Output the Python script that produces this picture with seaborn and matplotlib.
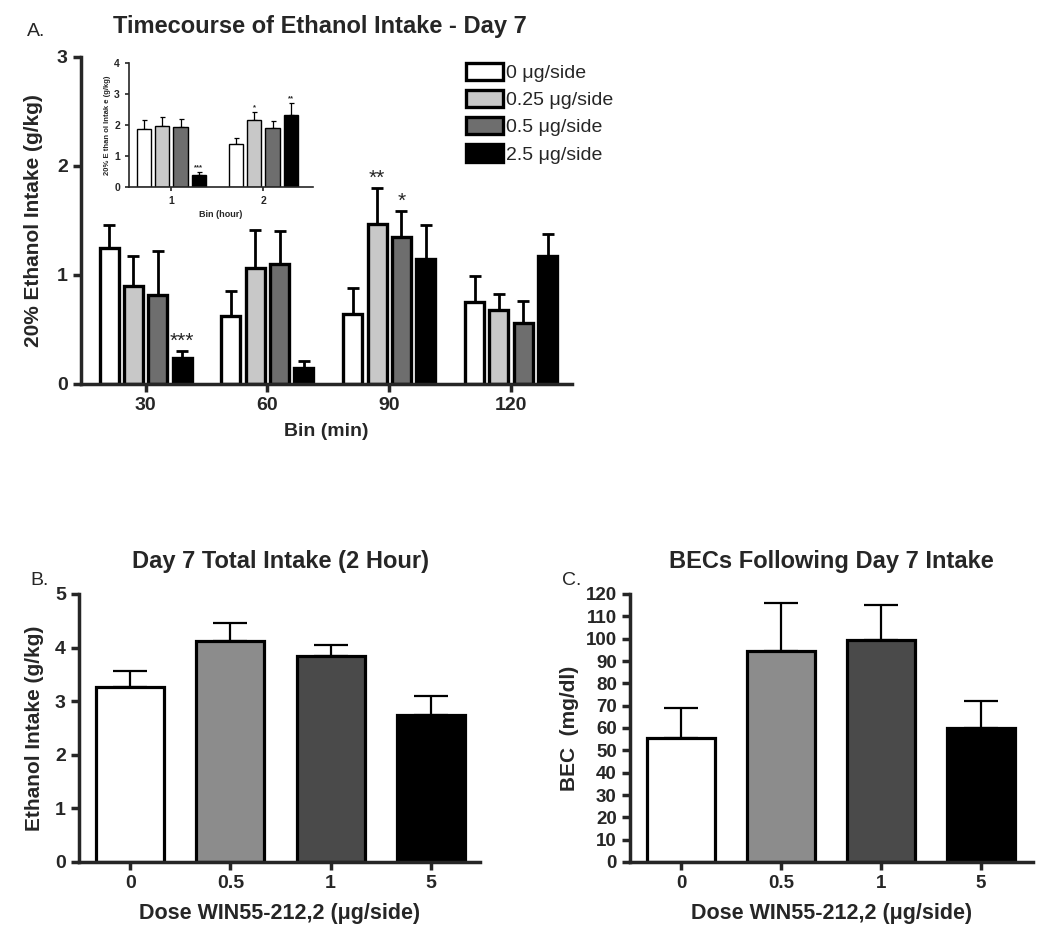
import numpy as np
import pandas as pd
from matplotlib import pyplot as plt
from matplotlib.container import BarContainer
import matplotlib.patches as mpatches
import seaborn as sns

sns.set_style("ticks")
plt.rcParams['font.family'] = ['Liberation Sans', 'DejaVu Sans']

# Panel A: timecourse, 30 min bins
a_bins = ['30', '60', '90', '120']
a_doses = ['0 μg/side', '0.25 μg/side', '0.5 μg/side', '2.5 μg/side']
a_mean_0 = [1.25, 0.62, 0.64, 0.75]
a_mean_025 = [0.90, 1.06, 1.47, 0.68]
a_mean_05 = [0.82, 1.10, 1.35, 0.56]
a_mean_25 = [0.24, 0.15, 1.15, 1.17]
a_sem_0 = [0.21, 0.23, 0.24, 0.24]
a_sem_025 = [0.27, 0.35, 0.33, 0.15]
a_sem_05 = [0.40, 0.30, 0.24, 0.20]
a_sem_25 = [0.06, 0.06, 0.31, 0.21]
a_star_0 = ['', '', '', '']
a_star_025 = ['', '', '**', '']
a_star_05 = ['', '', '*', '']
a_star_25 = ['***', '', '', '']

# Inset: 1 hour bins
in_bins = ['1', '2']
in_mean_0 = [1.87, 1.40]
in_mean_025 = [1.97, 2.15]
in_mean_05 = [1.94, 1.91]
in_mean_25 = [0.40, 2.33]
in_sem_0 = [0.29, 0.18]
in_sem_025 = [0.30, 0.28]
in_sem_05 = [0.26, 0.22]
in_sem_25 = [0.09, 0.39]
in_star_0 = ['', '']
in_star_025 = ['', '*']
in_star_05 = ['', '']
in_star_25 = ['***', '**']

# Panels B and C
bc_doses = ['0', '0.5', '1', '5']
b_mean = [3.27, 4.12, 3.85, 2.75]
b_sem = [0.30, 0.33, 0.20, 0.34]
c_mean = [55.3, 94.6, 99.4, 60.1]
c_sem = [13.7, 21.5, 15.7, 11.9]

a_colors = ['#ffffff', '#c8c8c8', '#6e6e6e', '#000000']
bc_colors = ['#ffffff', '#8c8c8c', '#4a4a4a', '#000000']


def long_df(bins, doses, means, sems, stars):
    rows = []
    for d, m_list, s_list, st_list in zip(doses, means, sems, stars):
        for b, m, s, st in zip(bins, m_list, s_list, st_list):
            rows.append({'bin': b, 'dose': d, 'mean': m, 'sem': s, 'star': st})
    return pd.DataFrame(rows)


def add_errbars(ax, df, lw, cap, star_size=None, star_pad=0.0):
    """Upper-only SEM bars on top of each bar (containers follow hue order)."""
    bars = [c for c in ax.containers if isinstance(c, BarContainer)]
    i = 0
    for cont in bars:
        for p in cont.patches:
            row = df.iloc[i]
            x = p.get_x() + p.get_width() / 2
            y = p.get_height()
            ax.errorbar([x], [y], yerr=[[0], [row['sem']]], fmt='none', ecolor='black',
                        elinewidth=lw, capsize=cap, capthick=lw, zorder=1)
            if star_size and row['star']:
                ax.text(x, y + row['sem'] + star_pad, row['star'], ha='center', va='bottom',
                        fontsize=star_size, fontweight='bold' if star_size < 10 else 'normal')
            i += 1


def style_axes(ax, lw, tick_len, tick_size):
    sns.despine(ax=ax)
    for s in ['left', 'bottom']:
        ax.spines[s].set_linewidth(lw)
    ax.tick_params(width=lw, length=tick_len, labelsize=tick_size, direction='out')
    for lab in ax.get_xticklabels() + ax.get_yticklabels():
        lab.set_fontweight('bold')


fig = plt.figure(figsize=(10.5, 9.4), dpi=100)

# ---------------- Panel A ----------------
df_a = long_df(a_bins, a_doses,
               [a_mean_0, a_mean_025, a_mean_05, a_mean_25],
               [a_sem_0, a_sem_025, a_sem_05, a_sem_25],
               [a_star_0, a_star_025, a_star_05, a_star_25])
ax_a = fig.add_axes([81 / 1050, 1 - 384 / 940, 491 / 1050, 327 / 940])
sns.barplot(data=df_a, x='bin', y='mean', hue='dose', order=a_bins, hue_order=a_doses,
            palette=a_colors, saturation=1, width=0.8, gap=0.22, edgecolor='black',
            linewidth=2.4, errorbar=None, legend=False, ax=ax_a, zorder=2)
add_errbars(ax_a, df_a, 2.0, 4.5, star_size=15, star_pad=0.0)
ax_a.set_ylim(0, 3)
ax_a.set_yticks([0, 1, 2, 3])
ax_a.set_xlim(-0.53, 3.5)
ax_a.set_xlabel('Bin (min)', fontsize=14, fontweight='bold', labelpad=6)
ax_a.set_ylabel('20% Ethanol Intake (g/kg)', fontsize=15, fontweight='bold', labelpad=10)
style_axes(ax_a, 2.5, 6, 14)

handles = [mpatches.Patch(facecolor=c, edgecolor='black', linewidth=2.4, label=d)
           for c, d in zip(a_colors, a_doses)]
fig.legend(handles=handles, loc='upper left', bbox_to_anchor=(458 / 1050, 1 - 55 / 940),
           frameon=False, fontsize=14, handlelength=1.9, handleheight=1.0,
           handletextpad=0.15, labelspacing=0.4, borderaxespad=0)

# ---------------- Inset ----------------
df_in = long_df(in_bins, a_doses,
                [in_mean_0, in_mean_025, in_mean_05, in_mean_25],
                [in_sem_0, in_sem_025, in_sem_05, in_sem_25],
                [in_star_0, in_star_025, in_star_05, in_star_25])
ax_in = fig.add_axes([129 / 1050, 1 - 187 / 940, 184 / 1050, 124 / 940])
sns.barplot(data=df_in, x='bin', y='mean', hue='dose', order=in_bins, hue_order=a_doses,
            palette=a_colors, saturation=1, width=0.8, gap=0.22, edgecolor='black',
            linewidth=1.0, errorbar=None, legend=False, ax=ax_in, zorder=2)
add_errbars(ax_in, df_in, 0.9, 1.8, star_size=5.5, star_pad=0.02)
ax_in.set_ylim(0, 4)
ax_in.set_yticks([0, 1, 2, 3, 4])
ax_in.set_xlim(-0.46, 1.54)
ax_in.set_xlabel('Bin (hour)', fontsize=6.5, fontweight='bold', labelpad=3)
ax_in.set_ylabel('20% E than ol Intak e (g/kg)', fontsize=5.5, fontweight='bold', labelpad=2)
style_axes(ax_in, 1.2, 3, 7.5)
ax_in.patch.set_alpha(0)

# ---------------- Panel B ----------------
ax_b = fig.add_axes([79 / 1050, 1 - 862 / 940, 401 / 1050, 268 / 940])
df_b = pd.DataFrame({'bin': bc_doses, 'dose': bc_doses, 'mean': b_mean, 'sem': b_sem,
                     'star': [''] * 4})
sns.barplot(data=df_b, x='bin', y='mean', hue='dose', order=bc_doses, hue_order=bc_doses,
            palette=bc_colors, saturation=1, width=0.68, dodge=False, edgecolor='black',
            linewidth=2.3, errorbar=None, legend=False, ax=ax_b, zorder=2)
add_errbars(ax_b, df_b, 1.6, 12)
ax_b.set_ylim(0, 5)
ax_b.set_yticks([0, 1, 2, 3, 4, 5])
ax_b.set_xlim(-0.51, 3.49)
ax_b.set_xlabel('Dose WIN55-212,2 (μg/side)', fontsize=15.5, fontweight='bold', labelpad=8)
ax_b.set_ylabel('Ethanol Intake (g/kg)', fontsize=15, fontweight='bold', labelpad=8)
style_axes(ax_b, 2.5, 6, 14)

# ---------------- Panel C ----------------
ax_c = fig.add_axes([630 / 1050, 1 - 862 / 940, 403 / 1050, 268 / 940])
df_c = pd.DataFrame({'bin': bc_doses, 'dose': bc_doses, 'mean': c_mean, 'sem': c_sem,
                     'star': [''] * 4})
sns.barplot(data=df_c, x='bin', y='mean', hue='dose', order=bc_doses, hue_order=bc_doses,
            palette=bc_colors, saturation=1, width=0.68, dodge=False, edgecolor='black',
            linewidth=2.3, errorbar=None, legend=False, ax=ax_c, zorder=2)
add_errbars(ax_c, df_c, 1.6, 12)
ax_c.set_ylim(0, 120)
ax_c.set_yticks(np.arange(0, 121, 10))
ax_c.set_xlim(-0.51, 3.52)
ax_c.set_xlabel('Dose WIN55-212,2 (μg/side)', fontsize=15.5, fontweight='bold', labelpad=8)
ax_c.set_ylabel('BEC  (mg/dl)', fontsize=15, fontweight='bold', labelpad=5)
style_axes(ax_c, 2.5, 6, 13.5)

# panel titles and letters
fig.text(320 / 1050, 1 - 33 / 940, 'Timecourse of Ethanol Intake - Day 7', ha='center',
         va='baseline', fontsize=17, fontweight='bold')
fig.text(27 / 1050, 1 - 36 / 940, 'A.', ha='left', va='baseline', fontsize=14)
fig.text(280 / 1050, 1 - 568 / 940, 'Day 7 Total Intake (2 Hour)', ha='center',
         va='baseline', fontsize=17, fontweight='bold')
fig.text(831 / 1050, 1 - 568 / 940, 'BECs Following Day 7 Intake', ha='center',
         va='baseline', fontsize=17, fontweight='bold')
fig.text(30 / 1050, 1 - 585 / 940, 'B.', ha='left', va='baseline', fontsize=14)
fig.text(562 / 1050, 1 - 585 / 940, 'C.', ha='left', va='baseline', fontsize=14)

plt.savefig('out.png', dpi=100)
